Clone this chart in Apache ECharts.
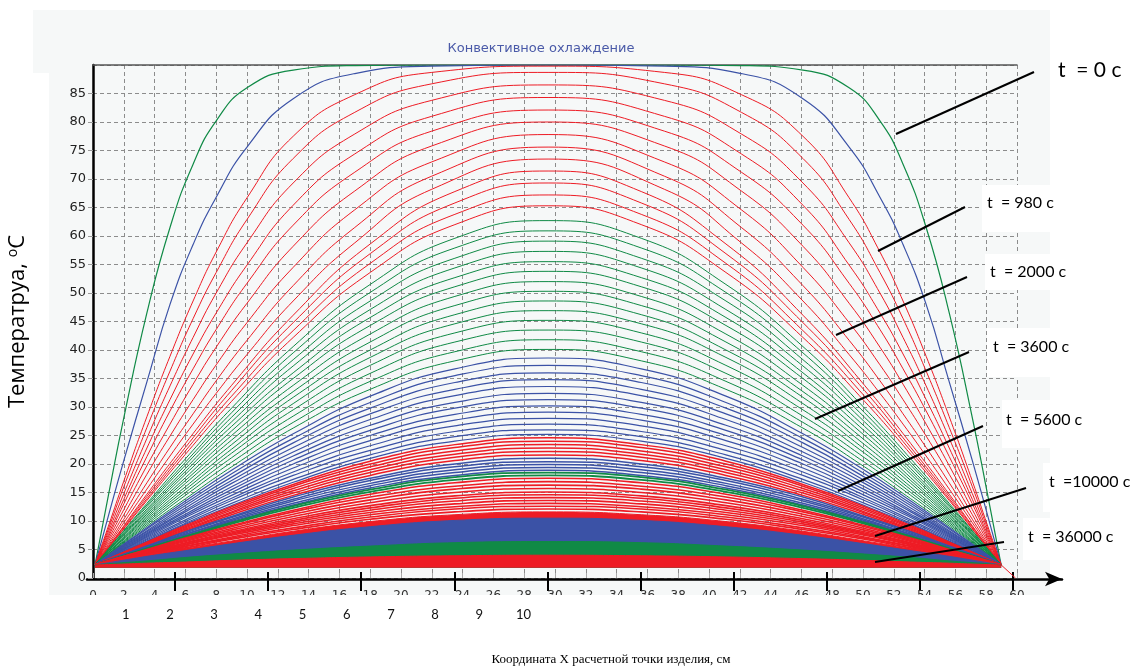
<!DOCTYPE html>
<html>
<head>
<meta charset="utf-8">
<script src="https://cdn.jsdelivr.net/npm/echarts@6.0.0/dist/echarts.min.js"></script>
<style>
  html, body { margin: 0; padding: 0; background: #fff; }
  #main { width: 1143px; height: 668px; }
</style>
</head>
<body>
<div id="main"></div>
<script>
// x positions of the left half of every profile (cm); the right half mirrors them
var X_EARLY = [0.13, 1, 2, 3.5, 5, 6.5, 8, 10, 13, 17, 22, 29.55];
var X_LATE = [0.13, 1.5, 3.5, 6, 9, 13, 18, 23.5, 29.55];
var X_MIRROR = 59.1;

// t = 0 c (green) and the next profile (blue)
var profileT0 = [2.3, 14.5, 28.1, 46.5, 61.5, 72.6, 80.2, 86.0, 89.1, 89.9, 90, 90];
var profileT1 = [2.3, 10.9, 20.6, 34.4, 48, 58.5, 66.8, 75.6, 84.1, 88.5, 89.8, 90];

// red family, early part (on X_EARLY)
var redEarly = [
  [2.3, 9.1, 17.0, 28.3, 38.9, 48.6, 57.2, 66.7, 77.5, 84.8, 88.7, 89.8],
  [2.3, 8.6, 16.0, 26.4, 36.3, 45.5, 53.6, 62.9, 73.6, 81.7, 86.7, 88.7],
  [2.3, 8.1, 14.8, 24.5, 33.7, 42.2, 50.0, 58.8, 69.3, 77.9, 83.8, 86.5],
  [2.3, 7.6, 13.8, 22.8, 31.3, 39.3, 46.5, 54.9, 65.4, 74.4, 81.0, 84.3],
  [2.3, 7.2, 13.0, 21.3, 29.3, 36.7, 43.6, 51.7, 61.9, 71.2, 78.4, 82.1],
  [2.3, 6.8, 12.0, 19.7, 27.0, 34.0, 40.5, 48.2, 58.2, 67.9, 75.8, 80.0],
  [2.3, 6.4, 11.1, 18.2, 24.9, 31.3, 37.4, 44.8, 54.5, 64.6, 73.0, 77.8],
  [2.3, 6.0, 10.3, 16.7, 22.9, 28.8, 34.6, 41.7, 51.3, 61.5, 70.5, 75.6],
  [2.3, 5.7, 9.7, 15.6, 21.4, 27.0, 32.4, 39.2, 48.6, 58.8, 68.2, 73.5]
];

// everything below is on X_LATE
var redLate = [
  [2.3, 7.3, 14.7, 23.6, 33.8, 46.1, 58.6, 67.8, 71.4],
  [2.3, 7.2, 14.3, 22.9, 32.9, 44.8, 56.9, 65.8, 69.3],
  [2.3, 7.0, 13.9, 22.3, 31.9, 43.4, 55.2, 63.8, 67.2],
  [2.3, 6.9, 13.6, 21.7, 31.0, 42.2, 53.6, 62.0, 65.3]
];

var greenMid = [
  [2.3, 6.7, 13.1, 20.9, 29.8, 40.6, 51.5, 59.6, 62.7],
  [2.3, 6.6, 12.8, 20.3, 29.0, 39.5, 50.1, 57.9, 60.9],
  [2.3, 6.4, 12.5, 19.8, 28.2, 38.3, 48.6, 56.1, 59.1],
  [2.3, 6.3, 12.1, 19.2, 27.4, 37.2, 47.1, 54.4, 57.3],
  [2.3, 6.2, 11.8, 18.7, 26.6, 36.0, 45.7, 52.7, 55.5],
  [2.3, 6.1, 11.5, 18.2, 25.8, 35.0, 44.3, 51.1, 53.8],
  [2.3, 5.9, 11.2, 17.6, 25.0, 33.8, 42.8, 49.4, 52.0],
  [2.3, 5.8, 10.9, 17.1, 24.2, 32.7, 41.4, 47.8, 50.3],
  [2.3, 5.7, 10.6, 16.6, 23.4, 31.7, 40.0, 46.2, 48.6],
  [2.3, 5.6, 10.3, 16.0, 22.6, 30.6, 38.7, 44.6, 46.9],
  [2.3, 5.4, 10.0, 15.5, 21.9, 29.5, 37.3, 43.0, 45.2],
  [2.3, 5.3, 9.7, 15.0, 21.1, 28.4, 35.9, 41.4, 43.5],
  [2.3, 5.2, 9.4, 14.5, 20.3, 27.3, 34.5, 39.7, 41.8],
  [2.3, 5.1, 9.1, 13.9, 19.5, 26.3, 33.1, 38.1, 40.1]
];

var blueMid = [
  [2.3, 5.0, 8.8, 13.5, 18.9, 25.3, 31.9, 36.7, 38.6],
  [2.3, 4.9, 8.6, 13.1, 18.3, 24.5, 30.8, 35.5, 37.3],
  [2.3, 4.8, 8.3, 12.7, 17.7, 23.7, 29.8, 34.3, 36.0],
  [2.3, 4.7, 8.1, 12.3, 17.1, 22.9, 28.8, 33.1, 34.8],
  [2.3, 4.6, 7.9, 11.9, 16.6, 22.1, 27.8, 32.0, 33.6],
  [2.3, 4.5, 7.7, 11.6, 16.0, 21.4, 26.8, 30.8, 32.4],
  [2.3, 4.4, 7.5, 11.2, 15.5, 20.7, 25.9, 29.8, 31.3],
  [2.3, 4.3, 7.3, 10.9, 15.0, 20.0, 25.0, 28.7, 30.2],
  [2.3, 4.3, 7.1, 10.6, 14.5, 19.3, 24.1, 27.7, 29.1],
  [2.3, 4.2, 6.9, 10.2, 14.0, 18.6, 23.2, 26.7, 28.0],
  [2.3, 4.1, 6.7, 9.9, 13.6, 18.0, 22.4, 25.7, 27.0],
  [2.3, 4.0, 6.5, 9.6, 13.1, 17.3, 21.6, 24.8, 26.0],
  [2.3, 4.0, 6.4, 9.4, 12.7, 16.8, 21.0, 24.0, 25.2]
];

var redLow = [
  [2.3, 3.9, 6.3, 9.2, 12.5, 16.4, 20.5, 23.4, 24.6],
  [2.3, 3.9, 6.2, 9.0, 12.2, 16.1, 20.0, 22.9, 24.0],
  [2.3, 3.8, 6.1, 8.8, 11.9, 15.7, 19.5, 22.3, 23.4],
  [2.3, 3.8, 6.0, 8.6, 11.6, 15.3, 19.0, 21.7, 22.8],
  [2.3, 3.8, 5.9, 8.4, 11.4, 14.9, 18.5, 21.2, 22.2],
  [2.3, 3.7, 5.8, 8.2, 11.1, 14.5, 18.0, 20.6, 21.6]
];

var blueLow = [
  [2.3, 3.7, 5.6, 8.1, 10.8, 14.2, 17.5, 20.0, 21.0],
  [2.3, 3.6, 5.5, 7.9, 10.6, 13.8, 17.1, 19.5, 20.4],
  [2.3, 3.6, 5.5, 7.7, 10.3, 13.5, 16.6, 19.0, 19.9],
  [2.3, 3.5, 5.4, 7.6, 10.1, 13.1, 16.2, 18.5, 19.4],
  [2.3, 3.5, 5.3, 7.4, 9.9, 12.8, 15.8, 18.0, 18.9]
];

var greenLow = [
  [2.3, 3.5, 5.2, 7.3, 9.7, 12.6, 15.5, 17.7, 18.5],
  [2.3, 3.4, 5.1, 7.1, 9.5, 12.3, 15.1, 17.2, 18.0]
];

var redDense = [
  [2.3, 3.4, 5.0, 7.0, 9.2, 11.9, 14.7, 16.7, 17.5],
  [2.3, 3.4, 4.9, 6.8, 9.0, 11.6, 14.2, 16.1, 16.9],
  [2.3, 3.3, 4.8, 6.6, 8.7, 11.2, 13.7, 15.6, 16.3],
  [2.3, 3.3, 4.7, 6.4, 8.4, 10.8, 13.2, 15.0, 15.7],
  [2.3, 3.2, 4.6, 6.2, 8.1, 10.4, 12.7, 14.4, 15.1],
  [2.3, 3.2, 4.5, 6.1, 7.9, 10.1, 12.3, 14.0, 14.6],
  [2.3, 3.2, 4.4, 5.9, 7.7, 9.8, 11.9, 13.5, 14.1],
  [2.3, 3.1, 4.3, 5.8, 7.5, 9.5, 11.5, 13.0, 13.6],
  [2.3, 3.1, 4.2, 5.6, 7.2, 9.2, 11.1, 12.5, 13.1],
  [2.3, 3.1, 4.1, 5.5, 7.0, 8.8, 10.7, 12.1, 12.6],
  [2.3, 3.0, 4.1, 5.3, 6.8, 8.5, 10.3, 11.6, 12.1]
];

// the last profiles are so close they read as solid bands
var redDenseBand = [2.3, 3.0, 4.0, 5.2, 6.5, 8.2, 9.9, 11.1, 11.6];
var blueBand = [2.3, 2.9, 3.8, 4.8, 6.0, 7.5, 9.0, 10.1, 10.5];
var greenBand = [2.3, 2.6, 3.0, 3.6, 4.2, 4.9, 5.6, 6.2, 6.4];
var redBand = [2.3, 2.4, 2.6, 2.8, 3.1, 3.4, 3.7, 3.9, 4.0];
var BAND_FLOOR = 1.8;

// short red tail at the right wall
var tailX = [58.97, 59.9];
var tailY = [2.3, 0];

var cmTicks = [0, 1, 2, 3, 4, 5, 6, 7, 8, 9];
var cmLabels = [1, 2, 3, 4, 5, 6, 7, 8, 9, 10];

var RED = '#ee1c25';
var GREEN = '#108a46';
var BLUE = '#3b52a6';

function mirror(xs, ys) {
  var pts = xs.map(function (x, i) { return [x, ys[i]]; });
  for (var i = xs.length - 2; i >= 0; i--) {
    pts.push([+(X_MIRROR - xs[i]).toFixed(2), ys[i]]);
  }
  return pts;
}

var families = [
  { xs: X_EARLY, rows: [profileT0], color: GREEN, width: 1.2 },
  { xs: X_EARLY, rows: [profileT1], color: BLUE, width: 1.2 },
  { xs: X_EARLY, rows: redEarly, color: RED, width: 1 },
  { xs: X_LATE, rows: redLate, color: RED, width: 1 },
  { xs: X_LATE, rows: greenMid, color: GREEN, width: 1 },
  { xs: X_LATE, rows: blueMid, color: BLUE, width: 1.2 },
  { xs: X_LATE, rows: redLow, color: RED, width: 1.5 },
  { xs: X_LATE, rows: blueLow, color: BLUE, width: 1.5 },
  { xs: X_LATE, rows: greenLow, color: GREEN, width: 1.8 },
  { xs: X_LATE, rows: redDense, color: RED, width: 1.6 }
];

var series = [];
families.forEach(function (f) {
  f.rows.forEach(function (row) {
    series.push({
      type: 'line',
      data: mirror(f.xs, row),
      smooth: 0.5,
      showSymbol: false,
      silent: true,
      lineStyle: { color: f.color, width: f.width }
    });
  });
});

[[redDenseBand, RED], [blueBand, BLUE], [greenBand, GREEN], [redBand, RED]].forEach(function (b) {
  series.push({
    type: 'line',
    data: mirror(X_LATE, b[0]),
    smooth: 0.5,
    showSymbol: false,
    silent: true,
    lineStyle: { color: b[1], width: 1 },
    areaStyle: { color: b[1], opacity: 1, origin: BAND_FLOOR }
  });
});

series.push({
  type: 'line',
  data: tailX.map(function (x, i) { return [x, tailY[i]]; }),
  showSymbol: false,
  silent: true,
  lineStyle: { color: RED, width: 1 }
});

// annotations on the right
var notes = [
  { text: 't  = 0 c', x: 1058, y: 70, size: 21, from: [1034, 72], to: [896, 134] },
  { text: 't  = 980 c', x: 987, y: 203, size: 16, box: [982, 185, 47], from: [965, 207], to: [878, 251] },
  { text: 't  = 2000 c', x: 990, y: 272, size: 16, box: [985, 254, 36], from: [967, 277], to: [836, 335] },
  { text: 't  = 3600 c', x: 993, y: 347, size: 16, box: [987, 328, 49], from: [969, 352], to: [815, 419] },
  { text: 't  = 5600 c', x: 1006, y: 420, size: 16, box: [1002, 400, 48], from: [983, 426], to: [838, 491] },
  { text: 't  =10000 c', x: 1049, y: 482, size: 16, box: [1043, 463, 49], from: [1026, 488], to: [875, 536] },
  { text: 't  = 36000 c', x: 1028, y: 537, size: 16, box: [1023, 518, 42], from: [1004, 542], to: [875, 562] }
];

var graphic = [
  { type: 'rect', z: -10, silent: true, shape: { x: 33, y: 10, width: 1017, height: 586 }, style: { fill: '#f6f8f8' } },
  { type: 'rect', z: -9, silent: true, shape: { x: 33, y: 73, width: 16, height: 523 }, style: { fill: '#ffffff' } },
  // the original tick numbers are cut in half by the pasted caption area
  { type: 'rect', z: 50, silent: true, shape: { x: 0, y: 595, width: 1143, height: 73 }, style: { fill: '#ffffff' } }
];
notes.forEach(function (n) {
  if (n.box) {
    graphic.push({ type: 'rect', z: 100, silent: true, shape: { x: n.box[0], y: n.box[1], width: 1143 - n.box[0], height: n.box[2] }, style: { fill: '#ffffff' } });
  }
  graphic.push({ type: 'line', z: 101, silent: true, shape: { x1: n.from[0], y1: n.from[1], x2: n.to[0], y2: n.to[1] }, style: { stroke: '#000', lineWidth: 2 } });
  graphic.push({ type: 'text', z: 102, silent: true, x: n.x, y: n.y, style: { text: n.text, font: n.size + 'px Lato, "Noto Sans", sans-serif', fill: '#000', verticalAlign: 'middle' } });
});

var chart = echarts.init(document.getElementById('main'));
chart.setOption({
  animation: false,
  backgroundColor: '#ffffff',
  title: [
    { text: 'Конвективное охлаждение', left: 536, top: 37, textAlign: 'center', z: 60,
      textStyle: { fontFamily: 'DejaVu Sans', fontSize: 13, fontWeight: 'normal', color: '#4a5aa8' } },
    { text: 'Координата X расчетной точки изделия, см', left: 606, top: 648, textAlign: 'center', z: 60,
      textStyle: { fontFamily: 'Liberation Serif', fontSize: 13, fontWeight: 'normal', color: '#000' } }
  ],
  grid: [
    { left: 93, right: 126, top: 65, bottom: 90, containLabel: false, outerBoundsMode: 'none' },
    { left: 87, right: 81, top: 500, bottom: 89, containLabel: false, outerBoundsMode: 'none' }
  ],
  xAxis: [
    { gridIndex: 0, type: 'value', position: 'bottom', min: 0, max: 60, interval: 2,
      axisLine: { show: false, onZero: false },
      axisTick: { inside: true, length: 5, lineStyle: { color: '#aaa' } },
      axisLabel: { margin: 12, fontFamily: 'DejaVu Sans', fontSize: 12, color: '#333' },
      splitLine: { show: true, lineStyle: { color: '#8c8c8c', type: [4, 3], width: 1 } } },
    { gridIndex: 0, type: 'value', position: 'top', min: 0, max: 60,
      axisLine: { show: true, onZero: false, lineStyle: { color: '#555', width: 1.5 } },
      axisTick: { show: false }, axisLabel: { show: false }, splitLine: { show: false } },
    { gridIndex: 0, type: 'value', position: 'bottom', min: 0.26, max: 21.165, z: 60,
      axisLine: { show: false, onZero: false }, axisTick: { show: false }, splitLine: { show: false },
      axisLabel: { customValues: cmLabels, margin: 30, fontFamily: 'Lato', fontSize: 13, color: '#111' } },
    { gridIndex: 1, type: 'value', position: 'bottom', min: -0.945, max: 9.527,
      axisLine: { show: true, onZero: false, symbol: ['none', 'arrow'], symbolSize: [11, 17], lineStyle: { color: '#000', width: 2.5 } },
      axisTick: { customValues: cmTicks, length: 12, lineStyle: { color: '#000', width: 2 } },
      axisLabel: { show: false }, splitLine: { show: false } },
    { gridIndex: 1, type: 'value', position: 'bottom', min: -0.945, max: 9.527,
      axisLine: { show: false, onZero: false },
      axisTick: { customValues: cmTicks, inside: true, length: 7, lineStyle: { color: '#000', width: 2 } },
      axisLabel: { show: false }, splitLine: { show: false } }
  ],
  yAxis: [
    { gridIndex: 0, type: 'value', min: 0, max: 90, interval: 5,
      name: 'Температруа, {sup|o}C', nameLocation: 'middle', nameGap: 63, nameRotate: 90,
      nameTextStyle: { fontFamily: 'Open Sans', fontSize: 22, color: '#000',
        rich: { sup: { fontFamily: 'Open Sans', fontSize: 14, verticalAlign: 'top', padding: [0, 0, 10, 0] } } },
      axisLine: { show: true, lineStyle: { color: '#000', width: 2.5 } },
      axisTick: { show: true, length: 5, lineStyle: { color: '#999' } },
      axisLabel: { showMaxLabel: false, margin: 7, fontFamily: 'DejaVu Sans', fontSize: 13, color: '#222' },
      splitLine: { show: true, lineStyle: { color: '#8c8c8c', type: [4, 3], width: 1 } } },
    { gridIndex: 1, type: 'value', show: false }
  ],
  graphic: graphic,
  series: series
});
</script>
</body>
</html>
